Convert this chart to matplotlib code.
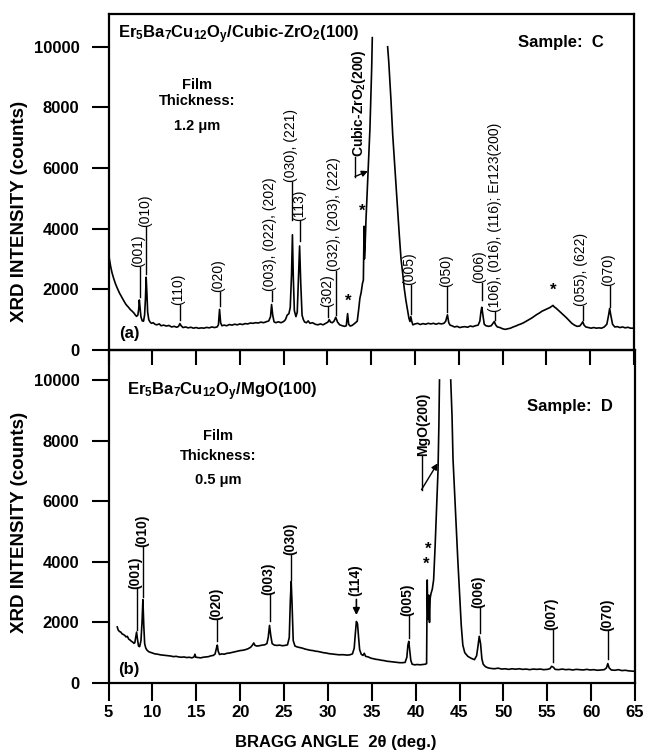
import numpy as np
import matplotlib
matplotlib.use('Agg')
import matplotlib.pyplot as plt

plt.rcParams['font.family'] = ['Liberation Sans', 'DejaVu Sans']
plt.rcParams['mathtext.fontset'] = 'custom'
plt.rcParams['mathtext.rm'] = 'Liberation Sans'
plt.rcParams['mathtext.bf'] = 'Liberation Sans:bold'
plt.rcParams['mathtext.it'] = 'Liberation Sans:italic'
plt.rcParams['mathtext.default'] = 'bf'

nan = float('nan')

# ---- sample C : film on cubic ZrO2(100) ----
tt_C = [5.0, 5.1, 5.25, 5.4, 5.6, 5.8, 6.0, 6.25, 6.5, 6.75, 7.0, 7.25, 7.5, 7.7, 7.9, 8.05, 8.2, 8.35,
        8.45, 8.52, 8.6, 8.7, 8.85, 9.0, 9.12, 9.22, 9.3, 9.38, 9.47, 9.6, 9.75, 9.9, 10.1, 10.3, 10.5,
        10.8, 11.0, 11.3, 11.6, 11.9, 12.2, 12.5, 12.8, 13.0, 13.15, 13.3, 13.5, 13.8, 14.1, 14.4, 14.7,
        15.0, 15.3, 15.6, 15.9, 16.2, 16.5, 16.8, 17.1, 17.4, 17.55, 17.68, 17.8, 17.95, 18.2, 18.5, 18.8,
        19.1, 19.4, 19.7, 20.0, 20.3, 20.6, 20.9, 21.2, 21.5, 21.8, 22.1, 22.4, 22.7, 23.0, 23.3, 23.5,
        23.62, 23.75, 23.9, 24.1, 24.4, 24.7, 25.0, 25.2, 25.4, 25.6, 25.75, 25.9, 26.0, 26.1, 26.22,
        26.4, 26.55, 26.7, 26.82, 26.95, 27.1, 27.25, 27.4, 27.6, 27.8, 28.0, 28.3, 28.6, 28.9, 29.2,
        29.5, 29.8, 30.05, 30.2, 30.35, 30.55, 30.75, 30.95, 31.15, 31.4, 31.7, 31.95, 32.15, 32.3,
        32.42, 32.6, 32.8, 33.0, 33.2, 33.4, 33.55, 33.7, 33.85, 34.0, 34.1, 34.18, 34.22, 34.28, 34.4,
        34.55, 34.7, 34.85, 34.95, 35.05, 35.12, nan, 36.87, 37.0, 37.25, 37.45, 37.63, 37.8, 38.0,
        38.2, 38.4, 38.6, 38.76, 38.95, 39.15, 39.3, 39.42, 39.52, 39.62, 39.75, 40.0, 40.3, 40.6, 40.9,
        41.2, 41.5, 41.8, 42.1, 42.4, 42.7, 43.0, 43.3, 43.5, 43.7, 43.85, 44.0, 44.2, 44.5, 44.8, 45.1,
        45.4, 45.7, 46.0, 46.3, 46.6, 46.9, 47.2, 47.4, 47.52, 47.62, 47.75, 47.9, 48.1, 48.4, 48.7,
        48.9, 49.05, 49.2, 49.4, 49.7, 50.0, 50.3, 50.6, 50.9, 51.2, 51.5, 51.8, 52.1, 52.4, 52.7, 53.0,
        53.3, 53.6, 53.9, 54.2, 54.5, 54.8, 55.1, 55.4, 55.6, 55.75, 55.9, 56.1, 56.4, 56.7, 57.0, 57.3,
        57.6, 57.9, 58.2, 58.5, 58.8, 59.0, 59.15, 59.3, 59.5, 59.8, 60.1, 60.4, 60.7, 61.0, 61.3, 61.6,
        61.9, 62.1, 62.22, 62.35, 62.55, 62.8, 63.1, 63.4, 63.7, 64.0, 64.3, 64.6, 65.0]
cts_C = [3300, 3000, 2750, 2550, 2350, 2180, 2040, 1880, 1750, 1620, 1500, 1420, 1330, 1280, 1220, 1160,
         1110, 1150, 1350, 1650, 1400, 1100, 960, 950, 1150, 1700, 2400, 1900, 1250, 1000, 920, 880, 900,
         850, 830, 860, 800, 820, 790, 810, 760, 780, 750, 780, 870, 800, 740, 760, 730, 750, 720, 740,
         715, 730, 720, 745, 730, 760, 740, 760, 830, 1340, 900, 800, 820, 800, 840, 820, 850, 830, 860,
         840, 870, 860, 890, 880, 900, 890, 920, 900, 930, 960, 1100, 1500, 1150, 930, 900, 930, 900, 940,
         1000, 1150, 1200, 1400, 2500, 3800, 2400, 1300, 1100, 1250, 2500, 3430, 2200, 1150, 1000, 920,
         900, 960, 880, 900, 850, 830, 860, 830, 880, 920, 1000, 920, 900, 950, 1080, 920, 830, 800, 780,
         800, 1200, 850, 790, 810, 850, 900, 950, 1300, 1700, 1900, 2200, 2300, 4080, 3000, 3300, 4300,
         5300, 6300, 7300, 8300, 9300, 10300, nan, 10000, 9500, 8250, 7100, 6300, 5500, 4600, 3800, 3000,
         2500, 2050, 1650, 1300, 1050, 940, 1100, 950, 830, 860, 880, 840, 870, 850, 880, 860, 880, 850,
         880, 860, 880, 950, 1160, 900, 820, 800, 760, 780, 740, 760, 770, 750, 790, 770, 800, 820, 950,
         1250, 1410, 1150, 850, 800, 780, 800, 880, 940, 830, 760, 740, 700, 680, 700, 720, 760, 790, 830,
         860, 900, 950, 1000, 1050, 1110, 1170, 1220, 1280, 1320, 1360, 1400, 1440, 1470, 1420, 1380,
         1300, 1220, 1140, 1060, 970, 880, 820, 780, 790, 860, 930, 820, 760, 740, 720, 740, 720, 730,
         720, 760, 850, 1150, 1370, 1150, 850, 760, 770, 740, 760, 730, 750, 720, 720]

# ---- sample D : film on MgO(100) ----
tt_D = [6.0, 6.1, 6.25, 6.4, 6.55, 6.7, 6.85, 7.0, 7.15, 7.3, 7.45, 7.6, 7.75, 7.9, 8.0, 8.1, 8.2, 8.3,
        8.42, 8.55, 8.7, 8.82, 8.92, 9.02, 9.12, 9.25, 9.4, 9.6, 9.8, 10.0, 10.3, 10.6, 10.9, 11.2, 11.5,
        11.8, 12.1, 12.4, 12.7, 13.0, 13.3, 13.6, 13.9, 14.2, 14.5, 14.75, 14.85, 14.95, 15.2, 15.5,
        15.8, 16.1, 16.4, 16.7, 16.95, 17.15, 17.3, 17.4, 17.5, 17.65, 17.9, 18.2, 18.5, 18.8, 19.1,
        19.4, 19.7, 20.0, 20.3, 20.6, 20.9, 21.2, 21.4, 21.55, 21.7, 21.9, 22.2, 22.5, 22.8, 23.05,
        23.2, 23.35, 23.5, 23.65, 23.9, 24.2, 24.5, 24.8, 25.1, 25.4, 25.6, 25.72, 25.82, 25.92, 26.05,
        26.25, 26.5, 26.8, 27.1, 27.4, 27.7, 28.0, 28.3, 28.6, 28.9, 29.2, 29.5, 29.8, 30.1, 30.4, 30.7,
        31.0, 31.3, 31.6, 31.9, 32.2, 32.5, 32.8, 33.0, 33.12, 33.25, 33.38, 33.5, 33.62, 33.8, 34.0,
        34.15, 34.3, 34.6, 34.9, 35.2, 35.5, 35.8, 36.1, 36.4, 36.7, 37.0, 37.3, 37.6, 37.9, 38.2, 38.5,
        38.8, 39.0, 39.12, 39.22, 39.32, 39.45, 39.6, 39.9, 40.2, 40.5, 40.8, 41.1, 41.25, 41.32, 41.4,
        41.5, 41.58, 41.66, 41.75, 41.9, 42.05, 42.22, 42.4, 42.55, 42.65, 42.72, nan, 44.0, 44.15,
        44.26, 44.45, 44.62, 44.8, 45.0, 45.2, 45.38, 45.6, 45.95, 46.3, 46.7, 46.95, 47.1, 47.25, 47.4,
        47.55, 47.7, 47.95, 48.25, 48.6, 49.0, 49.4, 49.8, 50.2, 50.6, 51.0, 51.4, 51.8, 52.2, 52.6,
        53.0, 53.4, 53.8, 54.2, 54.6, 55.0, 55.3, 55.5, 55.7, 55.9, 56.3, 56.7, 57.1, 57.5, 57.9, 58.3,
        58.7, 59.1, 59.5, 59.9, 60.3, 60.7, 61.1, 61.5, 61.75, 61.9, 62.05, 62.3, 62.7, 63.1, 63.5,
        63.9, 64.3, 64.7, 65.0]
cts_D = [1850, 1750, 1700, 1680, 1620, 1600, 1570, 1520, 1540, 1450, 1420, 1380, 1350, 1310, 1330, 1500,
         1680, 1450, 1220, 1200, 1400, 2000, 2750, 1900, 1300, 1150, 1080, 1030, 1010, 990, 960, 950,
         930, 920, 910, 900, 890, 870, 880, 860, 850, 860, 840, 850, 830, 860, 950, 850, 840, 830, 850,
         860, 870, 900, 910, 960, 1150, 1250, 1050, 940, 960, 950, 980, 990, 1010, 1030, 1050, 1070,
         1080, 1100, 1130, 1180, 1250, 1320, 1240, 1220, 1230, 1250, 1260, 1300, 1500, 1900, 1550, 1300,
         1250, 1240, 1250, 1230, 1240, 1260, 1500, 2700, 3350, 2600, 1400, 1220, 1190, 1170, 1150, 1120,
         1100, 1080, 1070, 1050, 1040, 1020, 1000, 990, 970, 960, 950, 940, 930, 935, 930, 920, 930, 960,
         1150, 1600, 2030, 1950, 1500, 1100, 950, 910, 980, 880, 860, 820, 800, 780, 770, 750, 740, 720,
         710, 700, 690, 680, 670, 670, 680, 850, 1250, 1375, 1100, 750, 620, 600, 610, 600, 610, 620,
         640, 3400, 2100, 2900, 2000, 2800, 2950, 3100, 3400, 4500, 5900, 7000, 8500, 10000, nan, 10000,
         8800, 7400, 6200, 5200, 4100, 2970, 1900, 1250, 1000, 880, 820, 770, 900, 1200, 1540, 1300, 800,
         620, 540, 500, 480, 470, 490, 460, 470, 450, 470, 455, 470, 450, 460, 440, 460, 450, 460, 440,
         450, 470, 550, 520, 450, 440, 460, 440, 450, 430, 450, 440, 430, 450, 430, 440, 420, 430, 440,
         500, 640, 500, 430, 420, 440, 410, 420, 400, 390, 385]

# peak labels: name, 2theta of the marked peak
peaks_C = ['(001)', '(010)', '(110)', '(020)', '(003), (022), (202)', '(030), (221)', '(113)',
           '(302)', '(032), (203), (222)', '(005)', '(050)', '(006)',
           '(106), (016), (116); Er123(200)', '(055), (622)', '(070)']
pos_C = [8.55, 9.32, 13.15, 17.68, 23.62, 26.0, 26.85, 30.1, 30.95, 39.5, 43.7, 47.62, 49.1, 59.15, 62.22]
peaks_D = ['(001)', '(010)', '(020)', '(003)', '(030)', '(005)', '(006)', '(007)', '(070)']
pos_D = [8.2, 8.95, 17.41, 23.35, 25.82, 39.22, 47.3, 55.62, 61.95]

# label text bottom / leader end (counts), and text shift from the leader
lab_C = [(2750, 1750), (4060, 2500), (1500, 1000), (1900, 1450), (1930, 1600), (5550, 4300),
         (4250, 3600), (1430, 1100), (2600, 1150), (2150, 1200), (2090, 1250), (2200, 1650),
         (1265, 980), (1450, 1000), (2100, 1420)]
shift_C = [-0.15, -0.15, -0.15, -0.15, -0.15, -0.15, -0.1, -0.15, -0.15, -0.15, -0.15, -0.25,
           -0.02, -0.15, -0.15]
lab_D = [(3100, 1750), (4480, 2850), (2090, 1400), (2910, 2030), (4230, 3400), (2200, 1480),
         (2475, 1650), (1760, 700), (1700, 780)]

yticks = [0, 2000, 4000, 6000, 8000, 10000]
xticks = list(range(5, 70, 5))

fig = plt.figure(figsize=(6.47, 7.52), dpi=100)
axC = fig.add_axes([108.5/647, 402/752, 525.5/647, 336/752])
axD = fig.add_axes([108.5/647, 69/752, 526.5/647, 333/752])

for ax in (axC, axD):
    ax.patch.set_alpha(0)
    for sp in ax.spines.values():
        sp.set_linewidth(1.6)
    ax.set_xlim(5, 65)
    ax.set_yticks(yticks)
    ax.set_xticks(xticks)
    ax.tick_params(axis='y', direction='out', length=12, width=1.5, pad=9, labelsize=12)
    for t in ax.get_yticklabels():
        t.set_fontweight('bold')

axC.set_ylim(0, 11080)
axD.set_ylim(0, 10990)
axC.tick_params(axis='x', direction='out', length=11, width=1.5, labelbottom=False)
axD.tick_params(axis='x', direction='out', length=13, width=1.5, pad=3, labelsize=12)
for t in axD.get_xticklabels():
    t.set_fontweight('bold')

axC.plot(tt_C, cts_C, color='k', lw=1.2)
axD.plot(tt_D, cts_D, color='k', lw=1.2)


def tag(ax, name, x, ytxt, yend, weight='normal', dx=-0.15):
    ax.text(x + dx, ytxt, name, rotation=90, ha='center', va='bottom',
            fontsize=10, fontweight=weight)
    ax.plot([x, x], [ytxt, yend], color='k', lw=1.0)


for name, x, (yt, ye), dx in zip(peaks_C, pos_C, lab_C, shift_C):
    tag(axC, name, x, yt, ye, dx=dx)
for name, x, (yt, ye) in zip(peaks_D, pos_D, lab_D):
    tag(axD, name, x, yt, ye, weight='bold')

# (114) marked with an arrow
axD.text(33.1, 2880, '(114)', rotation=90, ha='center', va='bottom', fontsize=10, fontweight='bold')
axD.annotate('', xy=(33.25, 2150), xytext=(33.25, 2850),
             arrowprops=dict(arrowstyle='-|>', color='k', lw=1.2, mutation_scale=10))

# substrate peaks
axC.text(33.65, 6370, 'Cubic-ZrO$_2$(200)', rotation=90, ha='center', va='bottom',
         fontsize=10, fontweight='bold')
axC.plot([33.15, 33.15], [6370, 5720], color='k', lw=1.0)
axC.annotate('', xy=(34.62, 5900), xytext=(33.15, 5720),
             arrowprops=dict(arrowstyle='-|>', color='k', lw=1.0, mutation_scale=9,
                             shrinkA=0, shrinkB=0))
axD.text(40.8, 7500, 'MgO(200)', rotation=90, ha='center', va='bottom',
         fontsize=10, fontweight='bold')
axD.plot([40.67, 40.67], [7500, 6380], color='k', lw=1.0)
axD.annotate('', xy=(42.5, 7250), xytext=(40.67, 6380),
             arrowprops=dict(arrowstyle='-|>', color='k', lw=1.0, mutation_scale=9,
                             shrinkA=0, shrinkB=0))

# impurity peaks
for x, y in [(32.4, 1600), (34.0, 4560), (55.73, 1980)]:
    axC.text(x, y, '*', ha='center', va='center', fontsize=12, fontweight='bold')
for x, y in [(41.18, 3910), (41.48, 4420)]:
    axD.text(x, y, '*', ha='center', va='center', fontsize=12, fontweight='bold')

# titles and notes
axC.text(6.1, 10400, 'Er$_5$Ba$_7$Cu$_{12}$O$_y$/Cubic-ZrO$_2$(100)', ha='left', va='center',
         fontsize=12, fontweight='bold')
axD.text(7.08, 9620, 'Er$_5$Ba$_7$Cu$_{12}$O$_y$/MgO(100)', ha='left', va='center',
         fontsize=12, fontweight='bold')
axC.text(61.5, 10130, 'Sample:  C', ha='right', va='center', fontsize=12, fontweight='bold')
axD.text(62.5, 9130, 'Sample:  D', ha='right', va='center', fontsize=12, fontweight='bold')

for ax, x, ys, thick in [(axC, 15.15, (8745, 8225, 7390), '1.2 μm'),
                         (axD, 17.47, (8140, 7480, 6710), '0.5 μm')]:
    ax.text(x, ys[0], 'Film', ha='center', va='center', fontsize=10.5, fontweight='bold')
    ax.text(x, ys[1], 'Thickness:', ha='center', va='center', fontsize=10.5, fontweight='bold')
    ax.text(x, ys[2], thick, ha='center', va='center', fontsize=10.5, fontweight='bold')

axC.text(6.2, 560, '(a)', ha='left', va='center', fontsize=12, fontweight='bold')
axD.text(6.14, 440, '(b)', ha='left', va='center', fontsize=12, fontweight='bold')

fig.text(20/647, 1 - 211/752, 'XRD INTENSITY (counts)', rotation=90, ha='center', va='center',
         fontsize=13.5, fontweight='bold')
fig.text(20/647, 1 - 522/752, 'XRD INTENSITY (counts)', rotation=90, ha='center', va='center',
         fontsize=13.5, fontweight='bold')
fig.text(336/647, 1 - 742/752, 'BRAGG ANGLE  2θ (deg.)', ha='center', va='center',
         fontsize=12, fontweight='bold')

fig.savefig('out.png', dpi=100)
